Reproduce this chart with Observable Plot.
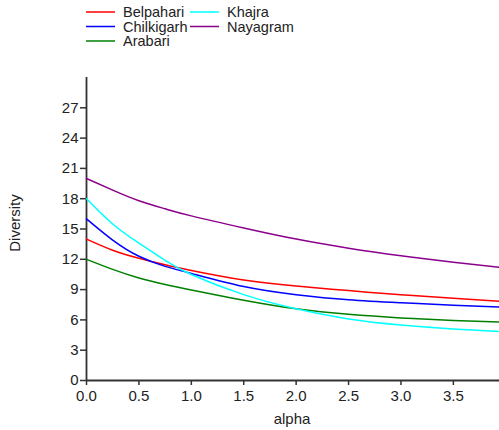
<!DOCTYPE html>
<html><head><meta charset="utf-8">
<script src="https://cdn.jsdelivr.net/npm/d3@7"></script>
<script src="https://cdn.jsdelivr.net/npm/@observablehq/plot@0.6"></script>
<style>
body{margin:0;background:#fff;font-family:"Liberation Sans",Arial,sans-serif;}
#wrap{width:499px;height:430px;position:relative;}
svg{display:block;}
</style></head><body><div id="wrap"></div>
<script>
const alpha = [0, 0.25, 0.5, 0.75, 1, 1.5, 2, 2.5, 3, 3.5, 3.94];
const sites = ["Belpahari", "Chilkigarh", "Arabari", "Khajra", "Nayagram"];
const colors = ["#ff0000", "#0000ff", "#008000", "#00ffff", "#8b008b"];
const belpahari  = [14, 12.9, 12.1, 11.45, 10.9, 9.95, 9.35, 8.9, 8.5, 8.15, 7.85];
const chilkigarh = [16, 13.9, 12.3, 11.3, 10.6, 9.3, 8.5, 8.0, 7.7, 7.45, 7.27];
const arabari    = [12, 11.0, 10.15, 9.5, 8.95, 7.95, 7.1, 6.55, 6.2, 5.95, 5.78];
const khajra     = [18, 15.5, 13.6, 11.9, 10.5, 8.5, 7.1, 6.1, 5.5, 5.1, 4.86];
const nayagram   = [20, 18.85, 17.8, 17.0, 16.3, 15.1, 14.0, 13.1, 12.35, 11.7, 11.2];
const yTicks = [0, 3, 6, 9, 12, 15, 18, 21, 24, 27];
const xTicks = [0, 0.5, 1, 1.5, 2, 2.5, 3, 3.5];

const series = [belpahari, chilkigarh, arabari, khajra, nayagram];
const data = [];
sites.forEach((s, i) => alpha.forEach((a, j) => data.push({site: s, alpha: a, value: series[i][j]})));

const wrap = document.getElementById("wrap");

// Legend
const leg = d3.create("svg").attr("width", 499).attr("height", 50)
  .style("font-family", '"Liberation Sans",Arial,sans-serif').style("font-size", "14.5px");
const legPos = [[86, 12], [86, 26.5], [86, 41], [190, 12], [190, 26.5]];
sites.forEach((s, i) => {
  const [x, y] = legPos[i];
  leg.append("line").attr("x1", x).attr("x2", x + 29).attr("y1", y).attr("y2", y)
    .attr("stroke", colors[i]).attr("stroke-width", 1.5);
  leg.append("text").attr("x", x + 37).attr("y", y).attr("dy", "0.35em").attr("fill", "#222").text(s);
});
wrap.appendChild(leg.node());

const plot = Plot.plot({
  width: 499, height: 380,
  marginLeft: 86, marginRight: 0, marginTop: 27, marginBottom: 50,
  style: {fontFamily: '"Liberation Sans",Arial,sans-serif', fontSize: "15px", color: "#222", background: "#fff"},
  x: {domain: [0, 3.94]},
  y: {domain: [0, 30]},
  color: {domain: sites, range: colors},
  marks: [
    Plot.axisY({ticks: yTicks, tickSize: 6, tickPadding: 2, label: null, stroke: "#333", strokeWidth: 1.5}),
    Plot.axisX({ticks: xTicks, tickSize: 5, tickPadding: 5, tickFormat: d3.format(".1f"), label: null, stroke: "#333", strokeWidth: 1.5}),
    Plot.ruleX([0], {y1: 0, y2: 30, stroke: "#333", strokeWidth: 1.8}),
    Plot.ruleY([0], {stroke: "#333", strokeWidth: 1.8}),
    Plot.line(data, {x: "alpha", y: "value", z: "site", stroke: "site", strokeWidth: 1.5, curve: "natural"})
  ]
});
const ps = d3.select(plot);
ps.append("text").attr("x", 292).attr("y", 369).attr("dy", "0.35em").attr("text-anchor", "middle")
  .style("font-size", "15px").attr("fill", "#222").text("alpha");
ps.append("text").attr("transform", "translate(15,173) rotate(-90)").attr("dy", "0.35em").attr("text-anchor", "middle")
  .style("font-size", "15px").attr("fill", "#222").text("Diversity");
wrap.appendChild(plot);
</script></body></html>
